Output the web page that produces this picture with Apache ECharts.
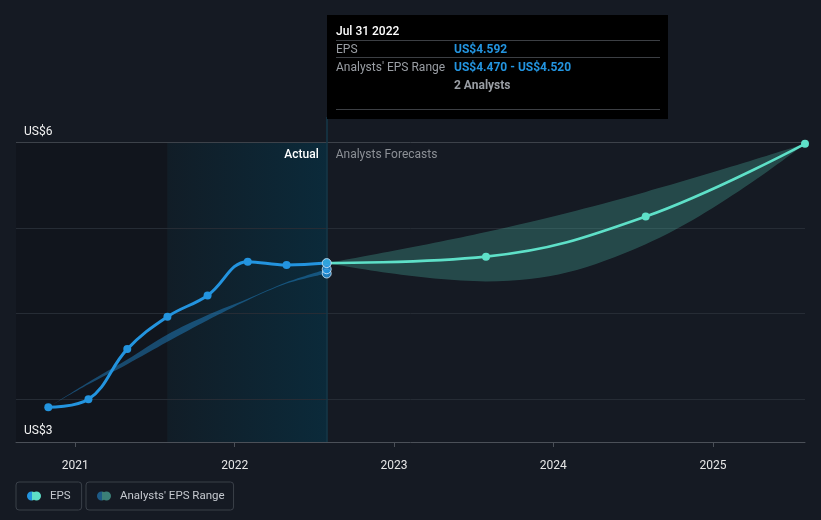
<!DOCTYPE html>
<html><head><meta charset="utf-8">
<script src="https://cdn.jsdelivr.net/npm/echarts@6/dist/echarts.min.js"></script>
<style>html,body{margin:0;padding:0;background:#151a23;}#chart{width:821px;height:520px;}</style>
</head><body><div id="chart"></div>
<script>
// ---- data ----
const histDates = ['2020-10-31','2021-01-31','2021-04-30','2021-07-31','2021-10-31','2022-01-31','2022-04-30','2022-07-31'];
const histEps = [2.906, 3.0, 3.586, 3.965, 4.214, 4.609, 4.569, 4.592];
const histRangeLow = [2.906, 3.175, 3.41, 3.672, 3.925, 4.158, 4.352, 4.47];
const histRangeHigh = [2.906, 3.2, 3.465, 3.758, 3.985, 4.175, 4.368, 4.52];
const fcDates = ['2022-07-31','2023-07-31','2024-07-31','2025-07-31'];
const fcEps = [4.592, 4.667, 5.136, 5.986];
const fcLow = [4.592, 4.378, 4.811, 5.986];
const fcHigh = [4.592, 4.956, 5.424, 5.986];
const yGridValues = [3, 4, 5, 6];
const yLabelValues = [2.5, 6];
const yLabels = ['US$3', 'US$6'];
const xRange = ['2020-08-18', '2025-07-31'];
const actualStart = '2021-07-31';
const forecastStart = '2022-07-31';
const tipIndex = 7;
const tipAnalysts = 2;
const monthNames = ['Jan','Feb','Mar','Apr','May','Jun','Jul','Aug','Sep','Oct','Nov','Dec'];
const labelsText = {actual: 'Actual', forecast: 'Analysts Forecasts', eps: 'EPS', range: "Analysts' EPS Range"};

// ---- styles ----
const BLUE = '#2394df', TEAL = '#5ee0c8';
const FONT = 'Roboto, "Noto Sans", sans-serif';
const twoDots = 'path://M0,4.5A4.5,4.5,0,1,0,9,4.5A4.5,4.5,0,1,0,0,4.5ZM5,4.5A4.5,4.5,0,1,0,14,4.5A4.5,4.5,0,1,0,5,4.5Z';
function split(c1, c2) {
  return {type:'linear', x:0, y:0, x2:1, y2:0, colorStops:[
    {offset:0, color:c1},{offset:0.36, color:c1},{offset:0.36, color:c2},{offset:1, color:c2}]};
}
const diff = (hi, lo) => hi.map((v, i) => +(v - lo[i]).toFixed(4));
const pairs = (xs, ys) => xs.map((x, i) => [x, ys[i]]);

function fmtDate(s) {
  const p = s.split('-');
  return monthNames[+p[1] - 1] + ' ' + (+p[2]) + ' ' + p[0];
}
function money(v) { return 'US$' + v.toFixed(3); }

const tipHtml = () => {
  const sep = 'border-bottom:1px solid #3c3f44;';
  const lab = 'display:inline-block;width:118px;color:#9a9ea4;';
  const val = 'color:' + BLUE + ';font-weight:bold;';
  return '<div style="width:324px;padding:0 8px 9px 9px;font-family:' + FONT.replace(/"/g, "'") + ';font-size:12px;">' +
    '<div style="color:#fff;font-weight:500;height:25px;line-height:32px;' + sep + '">' + fmtDate(histDates[tipIndex]) + '</div>' +
    '<div style="height:16px;line-height:16px;' + sep + '"><span style="' + lab + '">EPS</span><span style="' + val + '">' + money(histEps[tipIndex]) + '</span></div>' +
    '<div style="height:16px;line-height:18px;"><span style="' + lab + '">' + labelsText.range + '</span><span style="' + val + '">' + money(histRangeLow[tipIndex]) + ' - ' + money(histRangeHigh[tipIndex]) + '</span></div>' +
    '<div style="height:17px;line-height:22px;"><span style="display:inline-block;width:118px;"></span><span style="color:#9a9ea4;font-weight:bold;">' + tipAnalysts + ' Analysts</span></div>' +
    '<div style="height:18px;' + sep + '"></div>' +
    '</div>';
};

const chart = echarts.init(document.getElementById('chart'), null, {renderer: 'canvas'});
const legendBase = {
  top: 482, itemWidth: 14, itemHeight: 9,
  borderColor: '#3a4049', borderWidth: 1, borderRadius: 3, selectedMode: false,
  textStyle: {color: '#c5c9cf', fontSize: 11.5, fontFamily: FONT, padding: [0, 0, 0, 4]}
};

const option = {
  backgroundColor: '#151a23',
  animation: false,
  textStyle: {fontFamily: FONT},
  grid: {left: 16, right: 16, top: 117, bottom: 78, containLabel: false},
  legend: [
    Object.assign({}, legendBase, {left: 16, padding: [8, 11, 8, 11], data: [{name: labelsText.eps, icon: twoDots, itemStyle: {color: split(BLUE, TEAL)}}]}),
    Object.assign({}, legendBase, {left: 86, padding: [8, 9, 8, 11], data: [{name: labelsText.range, icon: twoDots, itemStyle: {color: split('#1d5a86', '#3b8078')}}]})
  ],
  tooltip: {
    trigger: 'item', triggerOn: 'none', alwaysShowContent: true, transitionDuration: 0,
    backgroundColor: '#000', borderWidth: 0, padding: 0,
    extraCssText: 'box-shadow:none;border-radius:0;',
    position: (point) => [point[0], 15],
    formatter: tipHtml
  },
  xAxis: {
    type: 'time', min: xRange[0], max: xRange[1],
    minInterval: 365 * 86400000,
    axisLine: {lineStyle: {color: '#4b5058', width: 1}},
    axisTick: {show: true, length: 5, lineStyle: {color: '#4b5058'}},
    axisLabel: {formatter: '{yyyy}', color: '#e6e6e6', fontSize: 12, margin: 18, showMinLabel: false, showMaxLabel: false, fontFamily: FONT},
    splitLine: {show: false}
  },
  yAxis: {
    type: 'value', min: 2.5, max: 6.3,
    splitLine: {show: false}, axisLine: {show: false}, axisTick: {show: false},
    axisLabel: {
      inside: true, customValues: yLabelValues,
      formatter: (v) => yLabels[yLabelValues.indexOf(v)],
      color: '#f2f2f2', fontSize: 12, fontFamily: FONT, verticalAlign: 'bottom', margin: 8, padding: [0, 0, 5, 0]
    }
  },
  series: [
    {
      name: '__frame', type: 'line', data: [], silent: true, z: 0,
      markArea: {
        silent: true, z: 0,
        data: [
          [{xAxis: xRange[0], yAxis: 2.5, itemStyle: {color: 'rgba(0,0,0,0.16)'}}, {xAxis: actualStart, yAxis: 6}],
          [{xAxis: actualStart, yAxis: 2.5,
            itemStyle: {color: {type:'linear', x:0, y:0, x2:1, y2:0, colorStops:[{offset:0, color:'#111d27'},{offset:1, color:'#0b2a3a'}]}},
            label: {show: true, position: 'insideTopRight', distance: 0, padding: [6, 8, 0, 0], formatter: labelsText.actual, color: '#ffffff', fontSize: 12, fontWeight: 500, fontFamily: FONT}},
           {xAxis: forecastStart, yAxis: 6}],
          [{xAxis: forecastStart, yAxis: 2.5, itemStyle: {color: 'rgba(0,0,0,0)'},
            label: {show: true, position: 'insideTopLeft', distance: 0, padding: [6, 0, 0, 9], formatter: labelsText.forecast, color: '#8c9096', fontSize: 12, fontFamily: FONT}},
           {xAxis: xRange[1], yAxis: 6}]
        ]
      },
      markLine: {
        silent: true, z: 1, symbol: ['none', 'none'], label: {show: false},
        data: yGridValues.map(v => ({yAxis: v, lineStyle: {color: v === 6 ? '#3d424a' : '#262c35', width: 1, type: 'solid'}}))
          .concat([{xAxis: forecastStart, lineStyle: {color: '#15384a', width: 1.5, type: 'solid'}}])
      }
    },
    {name: '__hlow', type: 'line', stack: 'hist', data: pairs(histDates, histRangeLow), symbol: 'none', smooth: 0.3, lineStyle: {width: 0, opacity: 0}, silent: true, z: 2},
    {name: labelsText.range, type: 'line', stack: 'hist', data: pairs(histDates, diff(histRangeHigh, histRangeLow)), symbol: 'none', smooth: 0.3,
      lineStyle: {width: 0, opacity: 0}, areaStyle: {color: 'rgba(35,148,223,0.42)', opacity: 1}, silent: true, z: 2, color: '#1d5a86'},
    {name: '__flow', type: 'line', stack: 'fc', data: pairs(fcDates, fcLow), symbol: 'none', smooth: 0.4, lineStyle: {width: 0, opacity: 0}, silent: true, z: 2},
    {name: labelsText.range, type: 'line', stack: 'fc', data: pairs(fcDates, diff(fcHigh, fcLow)), symbol: 'none', smooth: 0.4,
      lineStyle: {width: 0, opacity: 0}, areaStyle: {color: 'rgba(94,224,200,0.24)', opacity: 1}, silent: true, z: 2, color: '#3b8078'},
    {name: labelsText.eps, type: 'line', data: pairs(histDates, histEps), smooth: 0.4, symbol: 'circle', symbolSize: 8, showSymbol: true,
      lineStyle: {color: BLUE, width: 3}, itemStyle: {color: BLUE}, color: BLUE, z: 4, silent: true},
    {name: labelsText.eps, type: 'line', data: pairs(fcDates, fcEps), smooth: 0.4, symbol: 'circle', symbolSize: 8, showSymbol: true,
      lineStyle: {color: TEAL, width: 2.6}, itemStyle: {color: TEAL}, color: TEAL, z: 4, silent: true},
    {name: '__tip', type: 'scatter', z: 6, symbolSize: 9,
      itemStyle: {color: BLUE, borderColor: '#d6ebfa', borderWidth: 1},
      data: [[histDates[tipIndex], histRangeLow[tipIndex]], [histDates[tipIndex], histRangeHigh[tipIndex]], [histDates[tipIndex], histEps[tipIndex]]]}
  ]
};
chart.setOption(option);
chart.dispatchAction({type: 'showTip', seriesIndex: 7, dataIndex: 2});
</script></body></html>
